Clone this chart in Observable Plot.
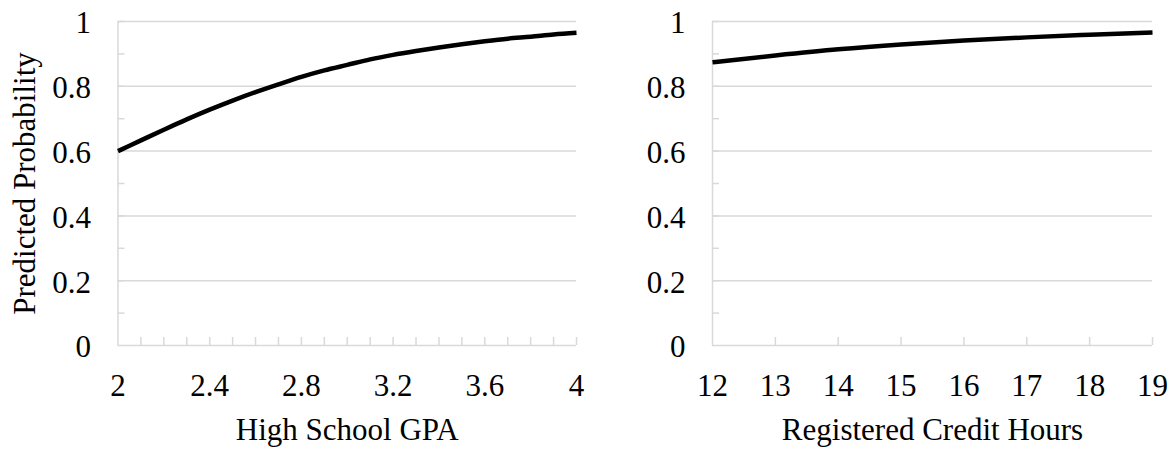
<!DOCTYPE html>
<html>
<head>
<meta charset="utf-8">
<script src="https://cdn.jsdelivr.net/npm/d3@7"></script>
<script src="https://cdn.jsdelivr.net/npm/@observablehq/plot@0.6"></script>
<style>
  html, body { margin: 0; padding: 0; background: #fff; font-family: "Liberation Serif", serif; font-size: 31px; }
  #wrap { display: flex; width: 1172px; height: 449px; }
</style>
</head>
<body>
<div id="wrap"></div>
<script>
// ---- Data ----
const gpa = [2.0, 2.1, 2.2, 2.3, 2.4, 2.5, 2.6, 2.7, 2.8, 2.9, 3.0, 3.1, 3.2, 3.3, 3.4, 3.5, 3.6, 3.7, 3.8, 3.9, 4.0];
const gpaProb = [0.600, 0.633, 0.666, 0.698, 0.728, 0.756, 0.782, 0.806, 0.829, 0.849, 0.866, 0.883, 0.897, 0.909, 0.920, 0.930, 0.939, 0.947, 0.953, 0.960, 0.965];

const credits = [12, 13, 14, 15, 16, 17, 18, 19];
const creditProb = [0.874, 0.895, 0.914, 0.929, 0.941, 0.951, 0.959, 0.966];

const yTicks = [0, 0.2, 0.4, 0.6, 0.8, 1];
const yMinorTicks = [0.1, 0.2, 0.3, 0.4, 0.5, 0.6, 0.7, 0.8, 0.9, 1];
const gpaTicks = [2, 2.4, 2.8, 3.2, 3.6, 4];
const gpaMinorTicks = [2.1, 2.2, 2.3, 2.4, 2.5, 2.6, 2.7, 2.8, 2.9, 3.0, 3.1, 3.2, 3.3, 3.4, 3.5, 3.6, 3.7, 3.8, 3.9, 4.0];
const creditTicks = [12, 13, 14, 15, 16, 17, 18, 19];
const creditMinorTicks = [13, 14, 15, 16, 17, 18, 19];

const xLabelGpa = "High School GPA";
const xLabelCredits = "Registered Credit Hours";
const yLabelText = "Predicted Probability";

// ---- Styling ----
const GRID = "#d9d9d9";
const FONT = "Liberation Serif";
const FS = 31;

function panel({xs, ys, xDomain, xTicks, xMinor, xLabel, yLabel, marginLeft, marginRight}) {
  const data = xs.map((v, i) => ({x: v, y: ys[i]}));
  const marks = [
    Plot.ruleY(yTicks.slice(1), {stroke: GRID, strokeWidth: 1.5}),
    Plot.ruleX([xDomain[0]], {stroke: GRID, strokeWidth: 1.5}),
    Plot.ruleY([0], {stroke: GRID, strokeWidth: 1.5}),
    Plot.axisY(yMinorTicks, {anchor: "left", tickSize: 7, dx: 7, stroke: GRID, strokeWidth: 1.5, strokeOpacity: 1, tickFormat: () => "", label: null}),
    Plot.axisY(yTicks, {anchor: "left", tickSize: 0, tickPadding: 27, dy: 2, tickFormat: d => String(d), label: null, fontSize: FS}),
    Plot.axisX(xMinor, {anchor: "bottom", tickSize: 8, dy: -8, stroke: GRID, strokeWidth: 1.5, strokeOpacity: 1, tickFormat: () => "", label: null}),
    Plot.axisX(xTicks, {anchor: "bottom", tickSize: 0, tickPadding: 28, tickFormat: d => String(d), label: null, fontSize: FS}),
    Plot.line(data, {x: "x", y: "y", stroke: "black", strokeWidth: 4.5, strokeLinecap: "butt", curve: "monotone-x"}),
    Plot.text([xLabel], {frameAnchor: "bottom", dy: 85, lineAnchor: "middle", textAnchor: "middle", fontSize: FS})
  ];
  if (yLabel) {
    marks.push(Plot.text([yLabel], {frameAnchor: "left", dx: 25 - marginLeft, rotate: -90, lineAnchor: "middle", textAnchor: "middle", fontSize: FS}));
  }
  return Plot.plot({
    width: 586,
    height: 449,
    marginTop: 21,
    marginBottom: 104,
    marginLeft,
    marginRight,
    x: {domain: xDomain},
    y: {domain: [0, 1]},
    style: {fontFamily: FONT, fontSize: FS + "px", color: "black", background: "white"},
    marks
  });
}

const wrap = document.getElementById("wrap");
wrap.appendChild(panel({
  xs: gpa, ys: gpaProb, xDomain: [2, 4], xTicks: gpaTicks, xMinor: gpaMinorTicks,
  xLabel: xLabelGpa, yLabel: yLabelText, marginLeft: 117.5, marginRight: 10
}));
wrap.appendChild(panel({
  xs: credits, ys: creditProb, xDomain: [12, 19], xTicks: creditTicks, xMinor: creditMinorTicks,
  xLabel: xLabelCredits, yLabel: null, marginLeft: 126, marginRight: 20
}));
</script>
</body>
</html>
